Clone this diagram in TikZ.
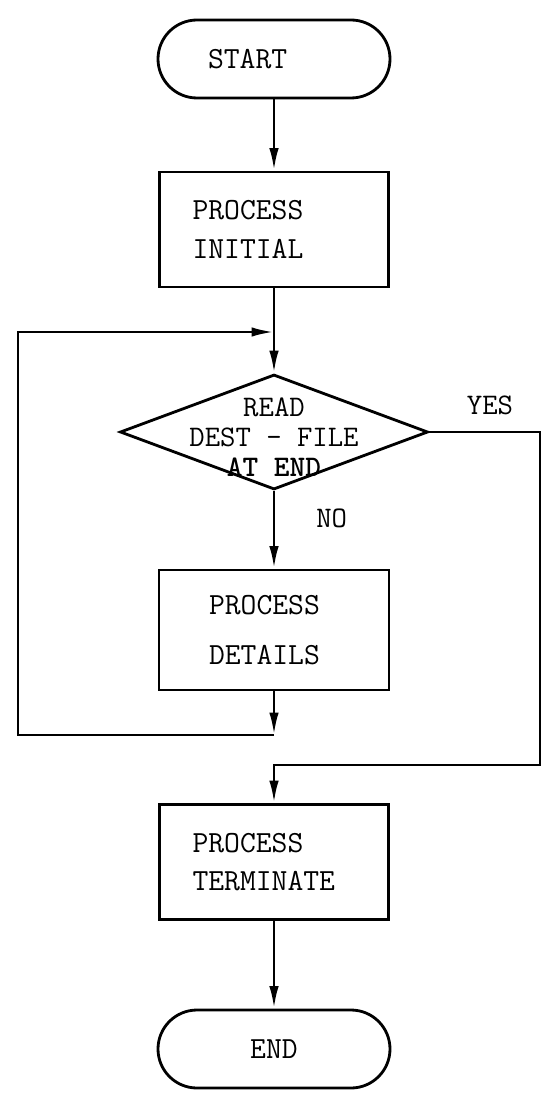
\documentclass[tikz,border=0pt]{standalone}
\usepackage{tikz}
\usetikzlibrary{positioning,arrows.meta,shapes.geometric}
\tikzset{
  terminal/.style={draw, line width=1.6pt, rounded corners=7.8mm, minimum width=4.64cm,
                   minimum height=1.56cm, font=\fontsize{17.5}{22}\selectfont\ttfamily},
  procbox/.style={draw, line width=1.6pt, minimum height=2.3cm, text width=3.26cm,
                  inner xsep=0.66cm, align=left, font=\fontsize{17.5}{22}\selectfont\ttfamily},
  decision/.style={diamond, draw, line width=1.6pt, minimum width=6.16cm,
                   minimum height=2.3cm, inner sep=0pt},
  flow/.style={-{Latex[length=4.5mm, width=1.9mm]}, line width=1.6pt},
  lbl/.style={font=\fontsize{17}{17}\selectfont\ttfamily}
}

\begin{document}
\begin{tikzpicture}
    \useasboundingbox (0,0) rectangle (10.92,-21.92);
    \node[terminal, text width=2.64cm, inner xsep=1cm, align=left] (start) at (5.48,-1.18) {START};
    \node[procbox] (init) at (5.48,-4.59) {PROCESS\\INITIAL};
    \node[decision] (dest) at (5.48,-8.64) {};
    \node[lbl, align=center] (desttxt) at ([yshift=-0.1cm]dest.center) {READ\\DEST - FILE\\\textbf{AT END}};
    \node[procbox, minimum height=2.4cm, inner xsep=1cm, text width=2.6cm] (details) at (5.48,-12.6) {PROCESS\\[6pt]DETAILS};
    \node[procbox] (finish) at (5.48,-17.24) {PROCESS\\TERMINATE};
    \node[terminal] (stop) at (5.48,-20.98) {END};
    % loop and exit corners
    \coordinate (join) at (5.48,-6.64);
    \coordinate (loopbot) at (5.48,-14.7);
    \coordinate (loopleft) at (0.36,-6.64);
    \coordinate (yesbot) at (10.8,-15.3);
    \draw[flow] (start) -- (init);
    \draw[flow] (init) -- (dest);
    \draw[flow] (dest) -- node[lbl, right=0.7cm, pos=0.35]{NO} (details);
    \draw[flow] (details) -- (loopbot);
    \draw[flow] (loopbot) -| (loopleft) -- (join);
    \draw[flow] (dest.east) -| (yesbot) -| (finish.north);
    \node[lbl] (yes) at (9.8,-8.1) {YES};
    \draw[flow] (finish) -- (stop);
\end{tikzpicture}
\end{document}
